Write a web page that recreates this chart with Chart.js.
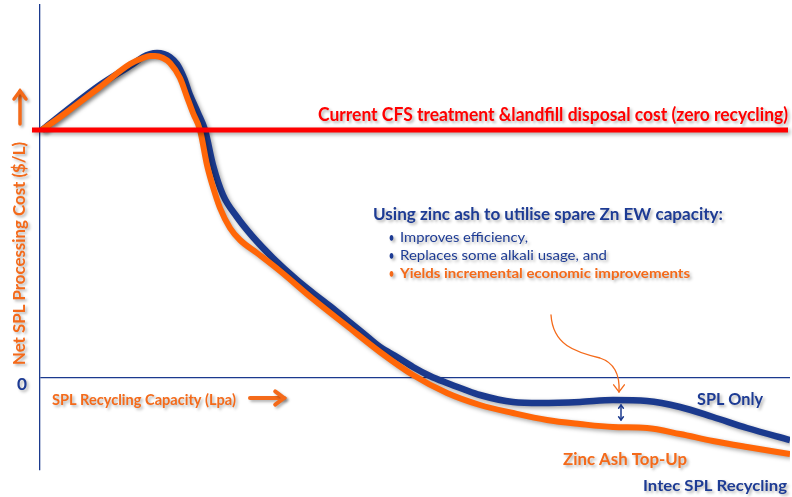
<!DOCTYPE html>
<html>
<head>
<meta charset="utf-8">
<script src="https://cdn.jsdelivr.net/npm/chart.js@4"></script>
<style>
html,body{margin:0;padding:0;background:#fff;}
#wrap{position:relative;width:792px;height:497px;}
</style>
</head>
<body>
<div id="wrap"><canvas id="c" width="792" height="497"></canvas></div>
<script>
// Capacity (x) and net processing cost (y) readings for each curve
const splOnlyX = [2,27,60,93,103,110,117,124,130,137,144,150,158,165,173,183,197,213,233,257,273,290,307,323,340,357,373,390,407,423,440,473,500,540,573,607,640,673,707,750];
const splOnlyY = [248,268,293,314,321,324,325,324,321,314,300,283,265,248,213,183,161,141,120,98,85,72,58,45,31,21,11,2,-5,-11,-17,-24,-25,-24,-22,-23,-29,-39,-50,-62];
const zincX = [2,27,60,90,103,110,115,123,130,140,147,153,160,167,173,180,190,200,217,240,273,307,340,373,407,440,473,507,540,573,607,640,673,707,750];
const zincY = [248,266,291,314,320,322,322,320,315,300,281,265,248,213,191,170,150,138,125,107,79,52,26,3,-15,-27,-35,-42,-46,-49,-50,-56,-63,-69,-76];
const landfillX = [-8, 748];
const landfillY = [248, 248];
const seriesNames = ["SPL Only", "Zinc Ash Top-Up", "Current CFS treatment &landfill disposal cost (zero recycling)"];

const BLUE = '#1b3a8e';
const BLUE_TXT = '#1d3b94';
const ORANGE = '#ff6608';
const ORANGE_TXT = '#f46a1a';
const RED = '#ff0000';

const pts = (xs, ys) => xs.map((x, i) => ({x: x, y: ys[i]}));

const shadowPlugin = {
  id: 'shadow',
  beforeDatasetDraw(chart) {
    const ctx = chart.ctx;
    ctx.save();
    ctx.shadowColor = 'rgba(0,0,0,0.35)';
    ctx.shadowBlur = 4;
    ctx.shadowOffsetX = 2;
    ctx.shadowOffsetY = 2;
  },
  afterDatasetDraw(chart) { chart.ctx.restore(); }
};

function fitText(ctx, str, x, y, w, size, color, weight, family) {
  ctx.save();
  ctx.font = weight + ' ' + size + 'px ' + (family || 'Lato');
  ctx.fillStyle = color;
  ctx.textBaseline = 'middle';
  ctx.textAlign = 'left';
  const nat = ctx.measureText(str).width;
  ctx.translate(x, y);
  ctx.scale(w / nat, 1);
  ctx.fillText(str, 0, 0);
  ctx.restore();
}

function arrowHead(ctx, x, y, ang, len) {
  ctx.beginPath();
  ctx.moveTo(x + len * Math.cos(ang + 2.5), y + len * Math.sin(ang + 2.5));
  ctx.lineTo(x, y);
  ctx.lineTo(x + len * Math.cos(ang - 2.5), y + len * Math.sin(ang - 2.5));
  ctx.stroke();
}

const textPlugin = {
  id: 'texts',
  afterDraw(chart) {
    const ctx = chart.ctx;
    ctx.save();
    ctx.shadowColor = 'rgba(0,0,0,0.3)';
    ctx.shadowBlur = 3;
    ctx.shadowOffsetX = 2;
    ctx.shadowOffsetY = 2;

    fitText(ctx, seriesNames[2], 318, 115, 470, 18, RED, 'bold');
    fitText(ctx, 'Using zinc ash to utilise spare Zn EW capacity:', 373, 215, 350, 17, BLUE_TXT, 'bold');
    fitText(ctx, '\u2022', 389, 237, 5, 14, BLUE_TXT, 'bold');
    fitText(ctx, 'Improves efficiency,', 400, 237, 128, 14, BLUE_TXT, 'normal');
    fitText(ctx, '\u2022', 389, 255, 5, 14, BLUE_TXT, 'bold');
    fitText(ctx, 'Replaces some alkali usage, and', 400, 255, 207, 14, BLUE_TXT, 'normal');
    fitText(ctx, '\u2022', 389, 273, 5, 14, ORANGE_TXT, 'bold');
    fitText(ctx, 'Yields incremental economic improvements', 400, 273, 290, 14, ORANGE_TXT, 'bold');
    fitText(ctx, seriesNames[0], 697, 400, 66, 17, BLUE_TXT, 'bold');
    fitText(ctx, seriesNames[1], 563, 460, 124, 17, ORANGE_TXT, 'bold');
    fitText(ctx, 'Intec SPL Recycling', 643, 486, 144, 16, BLUE_TXT, 'bold');
    fitText(ctx, '0', 17, 385, 10, 17, BLUE_TXT, 'bold');
    fitText(ctx, 'SPL Recycling Capacity (Lpa)', 52, 400, 184, 15, ORANGE_TXT, 'bold');

    // rotated y title
    ctx.save();
    ctx.translate(20, 365);
    ctx.rotate(-Math.PI / 2);
    fitText(ctx, 'Net SPL Processing Cost ($/L)', 0, 0, 223, 17, ORANGE_TXT, 'bold');
    ctx.restore();

    // axis arrows
    ctx.strokeStyle = ORANGE_TXT;
    ctx.lineWidth = 3.5;
    ctx.lineCap = 'round';
    ctx.beginPath(); ctx.moveTo(20, 124); ctx.lineTo(20, 91); ctx.stroke();
    arrowHead(ctx, 20, 91, -Math.PI / 2, 10);
    ctx.lineWidth = 4;
    ctx.beginPath(); ctx.moveTo(250, 398); ctx.lineTo(284, 398); ctx.stroke();
    arrowHead(ctx, 284, 398, 0, 11);

    ctx.shadowColor = 'rgba(0,0,0,0)';
    // curved pointer arrow
    ctx.lineWidth = 1.3;
    ctx.beginPath();
    ctx.moveTo(551, 315);
    ctx.bezierCurveTo(553, 345, 575, 352, 600, 358);
    ctx.bezierCurveTo(615, 363, 620, 375, 619, 392);
    ctx.stroke();
    arrowHead(ctx, 619, 392, Math.PI / 2, 9);

    // small blue double arrow
    ctx.strokeStyle = BLUE;
    ctx.lineWidth = 1.5;
    ctx.beginPath(); ctx.moveTo(621, 405); ctx.lineTo(621, 420); ctx.stroke();
    arrowHead(ctx, 621, 405, -Math.PI / 2, 4);
    arrowHead(ctx, 621, 420, Math.PI / 2, 4);
    ctx.restore();
  }
};

new Chart(document.getElementById('c'), {
  type: 'line',
  data: {
    datasets: [
      {label: seriesNames[2], data: pts(landfillX, landfillY), borderColor: RED, borderWidth: 5, pointRadius: 0, clip: false, order: 0, tension: 0},
      {label: seriesNames[1], data: pts(zincX, zincY), borderColor: ORANGE, borderWidth: 6, pointRadius: 0, order: 1, cubicInterpolationMode: 'monotone'},
      {label: seriesNames[0], data: pts(splOnlyX, splOnlyY), borderColor: BLUE, borderWidth: 6.5, pointRadius: 0, order: 2, cubicInterpolationMode: 'monotone'}
    ]
  },
  options: {
    responsive: false,
    animation: false,
    layout: {padding: {left: 40, right: 2, top: 5, bottom: 27}},
    plugins: {legend: {display: false}, tooltip: {enabled: false}},
    scales: {
      x: {type: 'linear', min: 0, max: 750, display: false},
      y: {
        type: 'linear', min: -92, max: 373,
        ticks: {display: false},
        afterBuildTicks: s => { s.ticks = [{value: 0}]; },
        afterFit: s => { s.width = 0; },
        grid: {drawTicks: false, color: BLUE, lineWidth: 1.3},
        border: {display: true, color: BLUE, width: 1.3}
      }
    }
  },
  plugins: [shadowPlugin, textPlugin]
});
</script>
</body>
</html>
